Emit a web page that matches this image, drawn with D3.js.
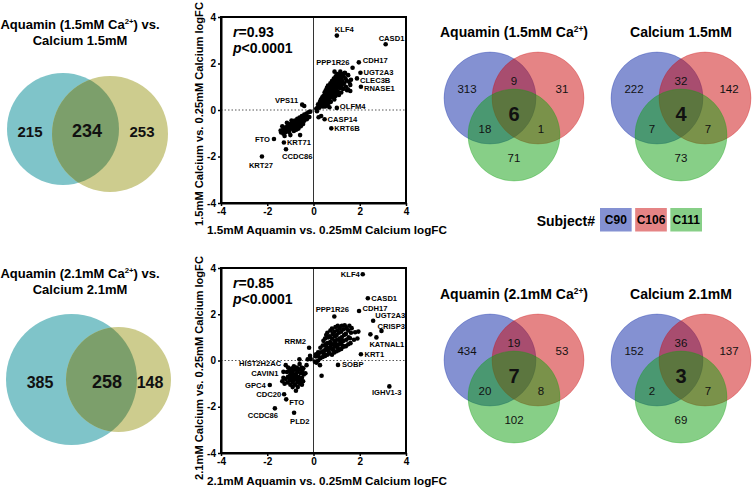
<!DOCTYPE html>
<html>
<head>
<meta charset="utf-8">
<script src="https://cdn.jsdelivr.net/npm/d3@7"></script>
<style>
html,body{margin:0;padding:0;background:#fff;}
svg{display:block;font-family:"Liberation Sans",Arial,sans-serif;}
</style>
</head>
<body>
<svg id="chart" width="754" height="493"></svg>
<script>
// ---------------- DATA ----------------
const axisTicks = [-4, -2, 0, 2, 4];

// Two-set Venn counts: [left only, shared, right only]
const venn2Top = [215, 234, 253];
const venn2Bottom = [385, 258, 148];

// Three-set Venn counts: [C90, C90&C106, C106, all, C90&C111, C106&C111, C111]
const vennAq15 = [313, 9, 31, 6, 18, 1, 71];
const vennCa15 = [222, 32, 142, 4, 7, 7, 73];
const vennAq21 = [434, 19, 53, 7, 20, 8, 102];
const vennCa21 = [152, 36, 137, 3, 2, 7, 69];
const subjects = ["C90", "C106", "C111"];

// Scatter 1 (1.5 mM): labelled genes [name, x, y]
const s1Genes = [
  ["KLF4", 1.01, 3.2], ["CASD1", 3.12, 2.83], ["CDH17", 1.96, 2.05], ["PPP1R26", 1.69, 1.82],
  ["UGT2A3", 2.03, 1.6], ["CLEC3B", 1.88, 1.36], ["RNASE1", 2.05, 1.0], ["OLFM4", 1.01, 0.09],
  ["CASP14", 0.48, -0.4], ["KRT6B", 0.77, -0.79], ["VPS11", -0.49, 0.23], ["FTO", -1.71, -1.25],
  ["KRT71", -1.28, -1.4], ["CCDC86", -1.19, -1.69], ["KRT27", -2.23, -2.0]
];
// Scatter 1 unlabelled points [x, y]
const s1Points = [
  [-0.4,0.17],
  [0.12,0.05],[0.15,-0.05],[0.18,0.12],[0.22,-0.31],[0.33,-0.26],[0.2,0.25],[0.25,0.1],[0.28,0.35],[0.3,0.2],
  [0.32,0.45],[0.35,0.3],[0.38,0.55],[0.4,0.15],[0.4,0.4],[0.43,0.17],[0.43,0.6],[0.45,0.3],[0.47,0.5],[0.48,0.75],
  [0.5,0.4],[0.52,0.62],[0.53,0.85],[0.55,0.3],[0.55,0.5],[0.57,0.72],[0.58,0.95],[0.6,0.45],[0.6,0.6],[0.62,0.82],
  [0.63,1.05],[0.65,0.55],[0.66,0.7],[0.67,0.92],[0.69,0.12],[0.7,0.4],[0.7,0.62],[0.71,0.8],[0.72,1.0],[0.73,1.15],
  [0.75,0.55],[0.76,0.72],[0.77,0.9],[0.78,1.08],[0.8,0.65],[0.8,1.25],[0.82,0.82],[0.83,1.0],[0.84,1.18],[0.85,0.55],
  [0.86,0.75],[0.87,0.92],[0.88,1.35],[0.9,1.1],[0.91,0.68],[0.91,1.65],[0.92,0.85],[0.93,1.25],[0.95,1.0],[0.96,1.45],
  [0.97,0.78],[0.98,1.15],[1.0,0.92],[1.0,1.36],[1.02,1.05],[1.03,1.55],[1.05,0.8],[1.05,1.25],[1.07,1.4],[1.08,1.0],
  [1.1,1.15],[1.1,0.65],[1.12,1.5],[1.13,1.3],[1.15,0.95],[1.16,1.65],[1.17,1.15],[1.2,1.4],[1.22,1.05],[1.23,1.55],
  [1.25,1.25],[1.28,0.9],[1.3,1.45],[1.32,1.15],[1.35,1.6],[1.37,1.58],[1.38,1.35],[1.4,1.0],[1.44,1.26],[1.45,0.85],
  [1.49,0.89],[1.5,1.5],[1.59,0.82],[1.59,1.08],[1.62,1.3],[1.55,1.2],[0.95,0.6],[0.75,0.35],[0.6,0.2],[0.5,0.15],
  [1.2,0.75],[0.65,0.3],[0.9,0.45],[1.0,0.7],
  [-1.4,-0.97],[-1.42,-0.88],[-1.3,-0.8],[-1.3,-1.02],[-1.32,-0.92],[-1.2,-0.74],[-1.2,-0.95],[-1.22,-0.85],
  [-1.1,-0.65],[-1.1,-0.88],[-1.12,-0.77],[-1.0,-0.6],[-1.0,-0.82],[-1.02,-0.7],[-0.9,-0.5],[-0.9,-0.78],[-0.92,-0.64],
  [-0.8,-0.45],[-0.8,-0.72],[-0.82,-0.58],[-0.7,-0.38],[-0.7,-0.66],[-0.72,-0.52],[-0.6,-0.32],[-0.6,-0.6],[-0.62,-0.45],
  [-0.5,-0.26],[-0.5,-0.52],[-0.52,-0.4],[-0.4,-0.2],[-0.4,-0.46],[-0.42,-0.33],[-0.3,-0.15],[-0.29,-0.4],[-0.31,-0.25],
  [-0.22,-0.1],[-0.18,-0.3],[-0.14,-0.07],[-0.58,-1.08],[-1.0,-1.08],[-1.25,-1.12],[-1.05,-0.95],[-0.75,-0.85],
  [-1.15,-0.55],[-0.65,-0.8],[-0.85,-0.9],[-0.95,-0.45],[-0.55,-0.7],[-0.45,-0.6],[-1.35,-0.7]
];

// Scatter 2 (2.1 mM): labelled genes [name, x, y]
const s2Genes = [
  ["KLF4", 2.13, 3.73], ["CASD1", 2.35, 2.69], ["CDH17", 1.97, 2.14], ["PPP1R26", 0.9, 1.9],
  ["UGT2A3", 2.58, 1.72], ["CRISP3", 2.94, 1.28], ["KATNAL1", 2.46, 1.13], ["KRT1", 2.05, 0.27],
  ["SOBP", 1.06, -0.19], ["IGHV1-3", 3.28, -1.12], ["RRM2", -0.19, 0.55], ["HIST2H2AC", -1.2, -0.2],
  ["CAVIN1", -1.3, -0.49], ["GPC4", -1.89, -1.06], ["CDC20", -1.27, -1.46], ["FTO", -1.18, -1.68],
  ["CCDC86", -1.67, -2.07], ["PLD2", -0.84, -2.26]
];
// Scatter 2 unlabelled points [x, y]
const s2Points = [
  [2.72,1.0],
  [0.2,0.0],[0.22,0.2],[0.2,0.35],[0.3,0.1],[0.32,0.35],[0.3,0.55],[0.4,0.15],[0.42,0.4],[0.4,0.65],[0.43,0.85],
  [0.5,0.2],[0.5,0.45],[0.52,0.7],[0.5,0.95],[0.55,1.1],[0.6,0.25],[0.62,0.5],[0.6,0.75],[0.63,1.0],[0.6,1.2],
  [0.7,0.3],[0.7,0.55],[0.72,0.8],[0.7,1.05],[0.73,1.3],[0.8,0.25],[0.8,0.5],[0.82,0.7],[0.8,0.95],[0.83,1.15],[0.8,1.38],
  [0.9,0.35],[0.92,0.6],[0.9,0.85],[0.93,1.05],[0.9,1.25],[0.95,1.45],[1.0,0.4],[1.0,0.65],[1.02,0.9],[1.0,1.1],
  [1.03,1.3],[1.05,1.5],[1.1,0.45],[1.1,0.7],[1.12,0.95],[1.1,1.2],[1.13,1.4],[1.2,0.5],[1.2,0.78],[1.22,1.0],
  [1.2,1.25],[1.23,1.5],[1.3,0.6],[1.3,0.85],[1.32,1.1],[1.3,1.35],[1.35,1.52],[1.4,0.62],[1.42,0.9],[1.4,1.15],
  [1.43,1.4],[1.5,0.7],[1.52,1.0],[1.5,1.3],[1.55,1.5],[1.6,0.75],[1.58,0.96],[1.62,1.2],[1.65,1.4],[1.75,0.9],
  [1.8,1.22],[1.94,1.25],[1.9,0.95],[0.06,-0.05],[0.1,0.18],[0.13,-0.1],[0.35,-0.66],[0.28,-0.2],[0.11,0.27],
  [0.65,0.4],[0.75,0.65],[0.85,0.45],[0.95,0.75],[1.05,0.55],[1.15,0.85],[1.25,0.65],[0.55,0.6],[0.45,0.3],
  [-1.15,-0.5],[-1.1,-0.3],[-1.1,-0.7],[-1.12,-0.95],[-1.05,-0.45],[-1.0,-0.6],[-1.02,-0.85],[-1.0,-1.05],
  [-0.95,-0.35],[-0.95,-0.75],[-0.9,-0.5],[-0.9,-0.95],[-0.9,-1.15],[-0.85,-0.25],[-0.85,-0.65],[-0.85,-0.85],
  [-0.8,-0.4],[-0.8,-1.05],[-0.78,-0.6],[-0.75,-0.8],[-0.76,-1.31],[-0.72,-0.3],[-0.7,-0.5],[-0.7,-0.95],
  [-0.68,-1.15],[-0.65,-0.7],[-0.62,-0.4],[-0.6,-0.85],[-0.6,-0.15],[-0.58,-1.0],[-0.55,-0.55],[-0.52,-0.3],
  [-0.5,-0.75],[-0.5,-1.05],[-0.48,-0.45],[-0.45,-0.9],[-0.44,-0.34],[-0.42,-0.6],[-1.2,-0.8],[-1.25,-1.0],
  [-1.3,-0.75],[-0.61,0.05],[-0.35,-0.55],[-0.3,-0.2],[-0.12,0.06],[-0.15,0.2],[-0.25,0.05],[-1.35,-0.9],
  [-0.95,-0.6],[-0.75,-0.65],[-0.65,-0.9],[-0.8,-0.75],[-0.55,-0.8],[-1.05,-0.75]
];

// ---------------- LAYOUT / STYLE CONFIG ----------------
const FONT = '"Liberation Sans",Arial,sans-serif';
// label placement: [dx, dy, anchor]
const s1LabelPos = {
  KLF4:[-2,-4,"start"], CASD1:[-7,-3,"start"], CDH17:[4,1,"start"], PPP1R26:[-3,-3,"end"],
  UGT2A3:[3,2,"start"], CLEC3B:[3,4.4,"start"], RNASE1:[3,4.3,"start"], OLFM4:[3,1,"start"],
  CASP14:[3,2.5,"start"], KRT6B:[3,2.8,"start"], VPS11:[-4,-2,"end"], FTO:[-4,2.7,"end"],
  KRT71:[3,2.4,"start"], CCDC86:[-4,10,"start"], KRT27:[-1,11,"middle"]
};
const s2LabelPos = {
  KLF4:[-3,2.7,"end"], CASD1:[3.5,2.7,"start"], CDH17:[3.5,0,"start"], PPP1R26:[-2,-4.7,"middle"],
  UGT2A3:[2,-2.3,"start"], CRISP3:[-4,-2.3,"start"], KATNAL1:[-1,12.4,"start"], KRT1:[3.5,2.7,"start"],
  SOBP:[4,2,"start"], "IGHV1-3":[-2.6,9,"middle"], RRM2:[-3,-3.3,"end"], HIST2H2AC:[-4.5,1,"end"],
  CAVIN1:[-5,4.5,"end"], GPC4:[-4,3,"end"], CDC20:[-3,2.7,"end"], FTO:[3,5.5,"start"],
  CCDC86:[-12,9.5,"middle"], PLD2:[-4,11,"start"]
};

const svg = d3.select("#chart");
svg.append("rect").attr("width",754).attr("height",493).attr("fill","#fff");

// ---------------- SCATTER ----------------
function drawScatter(cfg){
  const g = svg.append("g");
  const x = d3.scaleLinear().domain([-4,4]).range([221,406]);
  const y = d3.scaleLinear().domain([-4,4]).range([cfg.bottom, cfg.top]);

  // zero lines
  g.append("line").attr("x1",x(0)).attr("x2",x(0)).attr("y1",y(4)).attr("y2",y(-4))
    .attr("stroke","#333").attr("stroke-width",1);
  g.append("line").attr("x1",x(-4)).attr("x2",x(4)).attr("y1",y(0)).attr("y2",y(0))
    .attr("stroke","#555").attr("stroke-width",1).attr("stroke-dasharray","1.5,2");

  // points
  g.selectAll("circle.pt").data(cfg.points).join("circle").attr("class","pt")
    .attr("cx",d=>x(d[0])).attr("cy",d=>y(d[1])).attr("r",2.3).attr("fill","#000");
  g.selectAll("circle.gene").data(cfg.genes).join("circle").attr("class","gene")
    .attr("cx",d=>x(d[1])).attr("cy",d=>y(d[2])).attr("r",2.3).attr("fill","#000");
  g.selectAll("text.gene").data(cfg.genes).join("text").attr("class","gene")
    .attr("x",d=>x(d[1]) + cfg.labelPos[d[0]][0])
    .attr("y",d=>y(d[2]) + cfg.labelPos[d[0]][1])
    .attr("text-anchor",d=>cfg.labelPos[d[0]][2])
    .attr("font-size",7.6).attr("font-weight","bold").attr("font-family",FONT)
    .text(d=>d[0]);

  // box
  g.append("rect").attr("x",x(-4)).attr("y",y(4)).attr("width",x(4)-x(-4)).attr("height",y(-4)-y(4))
    .attr("fill","none").attr("stroke","#000").attr("stroke-width",2);

  // axes
  const ax = g.append("g").attr("transform",`translate(0,${y(-4)})`)
    .call(d3.axisBottom(x).tickValues(axisTicks).tickSize(3).tickSizeOuter(0).tickPadding(2).tickFormat(d=>String(d)));
  const ay = g.append("g").attr("transform",`translate(${x(-4)},0)`)
    .call(d3.axisLeft(y).tickValues(axisTicks).tickSize(3).tickSizeOuter(0).tickPadding(2).tickFormat(d=>String(d)));
  [ax,ay].forEach(a=>{
    a.select(".domain").attr("stroke-width",2);
    a.selectAll(".tick line").attr("stroke-width",1.5);
    a.selectAll(".tick text").attr("font-size",10).attr("font-weight","bold")
      .attr("font-family",FONT).attr("fill","#000");
  });

  // r / p text
  const t1 = g.append("text").attr("x",233).attr("y",cfg.top+20).attr("font-size",14)
    .attr("font-weight","bold").attr("font-family",FONT);
  t1.append("tspan").attr("font-style","italic").text("r");
  t1.append("tspan").text("=" + cfg.r);
  const t2 = g.append("text").attr("x",233).attr("y",cfg.top+36).attr("font-size",14)
    .attr("font-weight","bold").attr("font-family",FONT);
  t2.append("tspan").attr("font-style","italic").text("p");
  t2.append("tspan").text("<0.0001");

  // axis titles
  g.append("text").attr("x",327).attr("y",cfg.xlabY).attr("text-anchor","middle")
    .attr("font-size",11.7).attr("font-weight","bold").attr("font-family",FONT).text(cfg.xlab);
  g.append("text").attr("transform",`translate(203,${cfg.ylabMid}) rotate(-90)`)
    .attr("text-anchor","middle").attr("font-size",11.1).attr("font-weight","bold")
    .attr("font-family",FONT).text(cfg.ylab);
}

drawScatter({top:17,bottom:203,points:s1Points,genes:s1Genes,labelPos:s1LabelPos,r:"0.93",ylabMid:114,
  xlab:"1.5mM Aquamin vs. 0.25mM Calcium logFC",ylab:"1.5mM Calcium vs. 0.25mM Calcium logFC",xlabY:234});
drawScatter({top:268,bottom:453,points:s2Points,genes:s2Genes,labelPos:s2LabelPos,r:"0.85",ylabMid:368,
  xlab:"2.1mM Aquamin vs. 0.25mM Calcium logFC",ylab:"2.1mM Calcium vs. 0.25mM Calcium logFC",xlabY:485});

// ---------------- TWO-SET VENNS ----------------
function titleCa(parent, x, y, size, pre, post, anchor){
  const t = parent.append("text").attr("x",x).attr("y",y).attr("text-anchor",anchor||"middle")
    .attr("font-size",size).attr("font-weight","bold").attr("font-family",FONT).attr("fill","#000");
  t.append("tspan").text(pre);
  t.append("tspan").attr("font-size",size*0.6).attr("dy",-size*0.38).text("2+");
  t.append("tspan").attr("dy",size*0.38).text(post);
  return t;
}

function drawVenn2(cfg, id){
  const g = svg.append("g");
  const [L,R] = cfg.circles;
  g.append("circle").attr("cx",L[0]).attr("cy",L[1]).attr("r",L[2]).attr("fill","#7fc4c9");
  g.append("circle").attr("cx",R[0]).attr("cy",R[1]).attr("r",R[2]).attr("fill","#cdcc8e");
  g.append("clipPath").attr("id",id).append("circle").attr("cx",L[0]).attr("cy",L[1]).attr("r",L[2]);
  g.append("circle").attr("cx",R[0]).attr("cy",R[1]).attr("r",R[2]).attr("fill","#7c9f6b")
    .attr("clip-path",`url(#${id})`);
  const pos = cfg.numPos;
  cfg.counts.forEach((c,i)=>{
    g.append("text").attr("x",pos[i][0]).attr("y",pos[i][1]).attr("text-anchor","middle")
      .attr("font-size",pos[i][2]).attr("font-weight","bold").attr("font-family",FONT).attr("fill","#111").text(c);
  });
  titleCa(g, 80, cfg.titleY, 13, cfg.t1a, cfg.t1b);
  g.append("text").attr("x",80).attr("y",cfg.titleY+16).attr("text-anchor","middle")
    .attr("font-size",13).attr("font-weight","bold").attr("font-family",FONT).text(cfg.t2);
}

drawVenn2({circles:[[63,129,56],[110,134,58]],counts:venn2Top,
  numPos:[[30,137,15],[87,137,18],[142,137,15]],titleY:29,
  t1a:"Aquamin (1.5mM Ca",t1b:") vs.",t2:"Calcium 1.5mM"},"clipA");
drawVenn2({circles:[[71.5,379.5,65.5],[118.5,379.5,52.5]],counts:venn2Bottom,
  numPos:[[40,388,16],[107,388,18],[150,388,16]],titleY:278,
  t1a:"Aquamin (2.1mM Ca",t1b:") vs.",t2:"Calcium 2.1mM"},"clipB");

// ---------------- THREE-SET VENNS ----------------
const vennBase = ["#0923a5","#cb090b","#0f9f0f"];
const vennLight = ["#8491d2","#e58485","#87cf87"];

function drawVenn3(cx, cy, counts, title){
  const g = svg.append("g");
  const r = 46;
  const centers = [[cx-24,cy],[cx+24,cy],[cx,cy+37]];
  centers.forEach((c,i)=>{
    g.append("circle").attr("cx",c[0]).attr("cy",c[1]).attr("r",r)
      .attr("fill",vennBase[i]).attr("fill-opacity",0.5)
      .attr("stroke",vennBase[i]).attr("stroke-opacity",0.35).attr("stroke-width",0.8);
  });
  const off = [[-47,-9],[0,-17],[48,-9],[0,16],[-29,31],[27,31],[0,60]];
  counts.forEach((c,i)=>{
    const big = i===3;
    g.append("text").attr("x",cx+off[i][0]).attr("y",cy+off[i][1]+(big?6.5:4))
      .attr("text-anchor","middle").attr("font-size",big?20:11.5)
      .attr("font-weight",big?"bold":"normal").attr("font-family",FONT).attr("fill","#111").text(c);
  });
  if (title.length === 2) titleCa(g, cx, cy-61, 14, title[0], title[1]);
  else g.append("text").attr("x",cx).attr("y",cy-61).attr("text-anchor","middle")
    .attr("font-size",14).attr("font-weight","bold").attr("font-family",FONT).text(title[0]);
}

drawVenn3(514, 98, vennAq15, ["Aquamin (1.5mM Ca", ")"]);
drawVenn3(681, 98, vennCa15, ["Calcium 1.5mM"]);
drawVenn3(514, 360, vennAq21, ["Aquamin (2.1mM Ca", ")"]);
drawVenn3(681, 360, vennCa21, ["Calcium 2.1mM"]);

// ---------------- LEGEND ----------------
const lg = svg.append("g");
lg.append("text").attr("x",595).attr("y",226).attr("text-anchor","end").attr("font-size",14)
  .attr("font-weight","bold").attr("font-family",FONT).text("Subject#");
const boxX = d3.scaleBand().domain(subjects).range([600,702]).paddingInner(0.1);
lg.selectAll("rect.leg").data(subjects).join("rect").attr("class","leg")
  .attr("x",d=>boxX(d)).attr("y",208).attr("width",boxX.bandwidth()).attr("height",23.5)
  .attr("fill",(d,i)=>vennLight[i]);
lg.selectAll("text.leg").data(subjects).join("text").attr("class","leg")
  .attr("x",d=>boxX(d)+boxX.bandwidth()/2).attr("y",224).attr("text-anchor","middle")
  .attr("font-size",12).attr("font-weight","bold").attr("font-family",FONT).text(d=>d);
</script>
</body>
</html>
